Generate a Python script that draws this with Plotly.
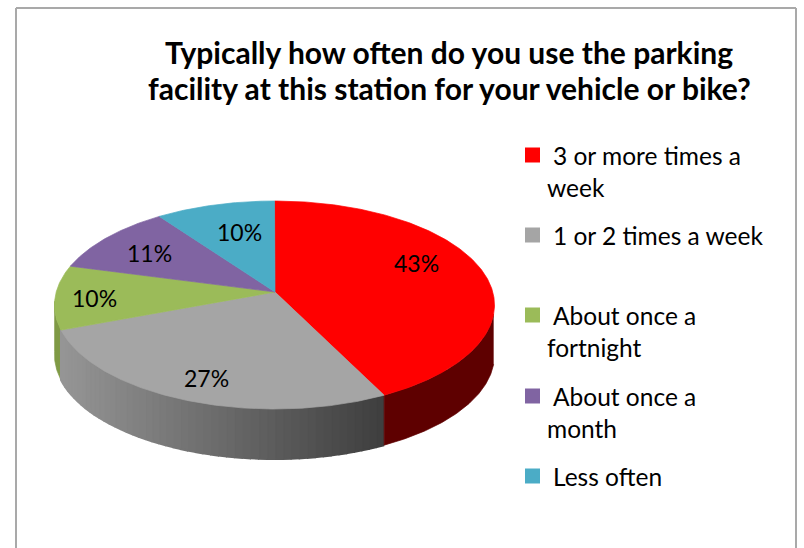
import math
import plotly.graph_objects as go

# Data
categories = ["3 or more times a week", "1 or 2 times a week", "About once a fortnight", "About once a month", "Less often"]
values = [43, 27, 10, 11, 10]
value_labels = ["43%", "27%", "10%", "11%", "10%"]
colors = ["#FF0000", "#A5A5A5", "#9BBB59", "#8064A2", "#4BACC6"]
legend_lines = [["3 or more times a", "week"], ["1 or 2 times a week"], ["About once a", "fortnight"], ["About once a", "month"], ["Less often"]]
title_lines = ["Typically how often do you use the parking", "facility at this station for your vehicle or bike?"]

# Layout (pixels)
W, H = 804, 548
CX, CY, RX, RY = 274.5, 305, 220, 104
APEX_Y = 292
APEX_X = 275
DEPTH = 50
PERSPECTIVE = 7  # degrees of angular skew from the 3D view
FONT = "Lato"
LABEL_FX = [.663, .85, .82, .695, .53]
LABEL_FY = [1.45, .83, 0, .76, .67]
LEGEND_Y = [155, 235, 315, 396, 476]
LEGEND_SPACING = 32


def warp(t):
    return t - PERSPECTIVE * math.sin(math.radians(t))


def rim(t, dy=0):
    a = math.radians(t)
    return CX + RX * math.sin(a), CY - RY * math.cos(a) + dy


def arc(t0, t1, dy=0):
    n = max(2, int(abs(t1 - t0)) * 2)
    pts = [rim(t0 + (t1 - t0) * i / n, dy) for i in range(n + 1)]
    return [p[0] for p in pts], [p[1] for p in pts]


def poly(xs, ys, color, lw=0.7):
    return go.Scatter(x=xs, y=ys, mode="lines", fill="toself", fillcolor=color,
                      line=dict(color=color, width=lw), hoverinfo="skip", showlegend=False)


total = sum(values)
edges = [0]
for v in values:
    edges.append(edges[-1] + v / total * 360)
drawn = [warp(e) for e in edges]

fig = go.Figure()


def wall(t0, t1, color=None, shade=None):
    if shade is None:
        x0, y0 = arc(t0, t1)
        x1, y1 = arc(t0, t1, DEPTH)
        fig.add_trace(poly(x0 + x1[::-1], y0 + y1[::-1], color))
        return
    n = 50
    for i in range(n):
        a, b = t0 + (t1 - t0) * i / n, t0 + (t1 - t0) * (i + 1) / n
        x0, y0 = arc(a, b)
        x1, y1 = arc(a, b, DEPTH)
        xm = (x0[0] + x0[-1]) / 2
        fig.add_trace(poly(x0 + x1[::-1], y0 + y1[::-1], shade(xm), lw=2))


def gray_shade(x):
    f = max(0.0, min(1.0, (x - 60) / (384 - 60)))
    g = int(round(150 - (150 - 62) * f))
    return f"rgb({g},{g},{g})"


# Side walls of the slices facing the viewer
wall(drawn[2], 272, color="#7F9A45")
wall(drawn[1], drawn[2], shade=gray_shade)
wall(95, drawn[1], color="#5E0000")

# Top faces
for i in range(len(values)):
    xs, ys = arc(drawn[i], drawn[i + 1])
    fig.add_trace(poly([APEX_X] + xs + [APEX_X], [APEX_Y] + ys + [APEX_Y], colors[i]))

annotations = []


def text(x, y, s, size, bold=False, anchor="left"):
    annotations.append(dict(x=x, y=y, text=f"<b>{s}</b>" if bold else s, showarrow=False,
                            xref="x", yref="y", xanchor=anchor, yanchor="middle",
                            font=dict(family=FONT, size=size, color="#000000")))


# Slice labels
for i, lab in enumerate(value_labels):
    mid = math.radians((edges[i] + edges[i + 1]) / 2)
    x = APEX_X + LABEL_FX[i] * RX * math.sin(mid)
    y = APEX_Y + 6 - LABEL_FY[i] * RY * math.cos(mid)
    text(x, y, lab, 23, anchor="center")

# Title
text(449, 51.5, title_lines[0], 30, bold=True, anchor="center")
text(449, 87.5, title_lines[1], 30, bold=True, anchor="center")

# Legend
shapes = []
for i, lines in enumerate(legend_lines):
    y = LEGEND_Y[i]
    shapes.append(dict(type="rect", x0=525, x1=540, y0=y - 7.5, y1=y + 7.5,
                       fillcolor=colors[i], line=dict(width=0), layer="above"))
    text(551, y, lines[0], 24.5)
    if len(lines) > 1:
        text(545, y + LEGEND_SPACING, lines[1], 24.5)

# Chart frame
frame = "#A9A9A9"
for x0, y0, x1, y1 in [(16, 8, 796, 8), (16, 8, 16, H), (796, 8, 796, H)]:
    shapes.append(dict(type="line", x0=x0, y0=y0, x1=x1, y1=y1, line=dict(color=frame, width=2)))

fig.update_layout(
    width=W, height=H, autosize=False, margin=dict(l=0, r=0, t=0, b=0),
    paper_bgcolor="white", plot_bgcolor="white", showlegend=False,
    xaxis=dict(range=[0, W], visible=False, fixedrange=True),
    yaxis=dict(range=[H, 0], visible=False, fixedrange=True),
    annotations=annotations, shapes=shapes,
)
fig.write_html("out.html", config={"displayModeBar": False},
               post_script="document.body.style.margin='0';document.body.style.overflow='hidden';")
